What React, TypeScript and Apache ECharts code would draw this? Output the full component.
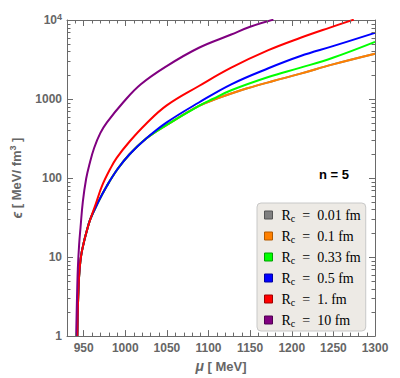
import React, { useEffect, useRef } from 'react';
import * as echarts from 'echarts';

// ---- data (mu [MeV], epsilon [MeV/fm^3]) ----
const radii = ['0.01', '0.1', '0.33', '0.5', '1.', '10'];
const colors = ['#808080', '#FF8000', '#00FF00', '#0000FF', '#FF0000', '#800080'];
const swatchBorders = ['#555555', '#b35a00', '#00a000', '#0000a0', '#a00000', '#500050'];

const grayR001: [number, number][] = [
  [942.4, 1], [943, 2.2], [944, 4.5], [945.1, 7], [947, 10.5], [950, 15], [953, 20], [957.9, 30],
  [967.6, 50], [978, 80], [991, 131], [1005.2, 200], [1024.5, 312], [1049.8, 470], [1088.5, 819],
  [1110, 1010], [1130, 1200], [1146.6, 1368], [1177.7, 1690], [1210.6, 2094], [1249.4, 2742], [1300, 3741],
];
const orangeR01: [number, number][] = [
  [942.4, 1], [943, 2.2], [944, 4.5], [945.1, 7], [947, 10.5], [950, 15], [953, 20], [957.9, 30],
  [967.6, 50], [978, 80], [991, 131], [1005.2, 200], [1024.5, 312], [1049.8, 470], [1088.5, 819],
  [1110, 1010], [1130, 1200], [1146.6, 1368], [1177.7, 1690], [1210.6, 2094], [1249.4, 2742], [1300, 3741],
];
const greenR033: [number, number][] = [
  [942.4, 1], [943, 2.2], [944, 4.5], [945.1, 7], [947, 10.5], [950, 15], [953, 20], [957.9, 30],
  [967.6, 50], [978, 80], [991, 131], [1005.2, 200], [1024.5, 312], [1049.8, 470], [1088.5, 819],
  [1105, 1000], [1127.3, 1290], [1171.9, 1898], [1210.6, 2494], [1249.4, 3334], [1300, 5297],
];
const blueR05: [number, number][] = [
  [942.4, 1], [943, 2.2], [944, 4.5], [945.1, 7], [947, 10.5], [950, 15], [953, 20], [957.9, 30],
  [967.6, 50], [978, 80], [991, 131], [1005.2, 200], [1024.5, 312], [1049.8, 506], [1088.5, 904],
  [1127.3, 1536], [1171.9, 2450], [1210.6, 3500], [1249.4, 4667], [1300, 6880],
];
const redR1: [number, number][] = [
  [942.4, 1], [943, 2.2], [944, 4.5], [945.1, 7], [947, 10.5], [950, 15], [953, 20], [957, 28],
  [964.5, 47], [972.2, 80], [982, 131], [989.7, 180], [1005.2, 290], [1024.5, 480], [1049.8, 830],
  [1088.5, 1462], [1127.3, 2494], [1171.9, 4150], [1210.6, 5953], [1245, 7960], [1274.5, 10100],
];
const purpleR10: [number, number][] = [
  [941, 1], [942, 3], [943, 7], [944.5, 14], [946.3, 24], [949, 50], [953, 98], [957, 150],
  [962.6, 240], [970, 370], [978, 506], [997.4, 904], [1018.7, 1536], [1049.8, 2612],
  [1088.5, 4456], [1127.3, 6546], [1150, 8200], [1178, 10100],
];
const seriesData = [grayR001, orangeR01, greenR033, blueR05, redR1, purpleR10];

const xTickLabels = ['950', '1000', '1050', '1100', '1150', '1200', '1250', '1300'];
const yTickLabels = ['1', '10', '100', '1000', '10^4'];

const X_MIN = 930;
const X_MAX = 1300;
const Y_MIN = 1;
const Y_MAX = 10000;

const AXIS = '#6a6a6a';
const LABEL = '#666666';
const SANS = '"Liberation Sans", Arial, sans-serif';
const SERIF = '"Liberation Serif", "DejaVu Serif", serif';
const NB = '\u00A0';

// minor tick positions
const xMinor: number[][] = [];
for (let v = 940; v < X_MAX; v += 10) if (v % 50 !== 0) xMinor.push([v, 1]);
const yMinor: number[][] = [];
for (let d = 1; d < Y_MAX; d *= 10) for (let k = 2; k <= 9; k++) yMinor.push([1000, d * k]);

export default function App() {
  const ref = useRef<HTMLDivElement>(null);
  useEffect(() => {
    document.body.style.margin = '0';
    const chart = echarts.init(ref.current!, undefined, { renderer: 'svg' });

    const minorLen = 3.5;
    const option: any = {
      animation: false,
      backgroundColor: '#ffffff',
      grid: { left: 57, right: 25, top: 20, bottom: 40, containLabel: false },
      xAxis: [
        {
          type: 'value', position: 'bottom', min: X_MIN, max: X_MAX, splitNumber: 8,
          splitLine: { show: false },
          axisLine: { lineStyle: { color: AXIS, width: 1 } },
          axisTick: { inside: true, length: 6, lineStyle: { color: AXIS } },
          axisLabel: {
            color: LABEL, fontFamily: SANS, fontWeight: 'bold', fontSize: 12, margin: 6,
            showMinLabel: true, showMaxLabel: true,
            formatter: (v: number) => (xTickLabels.includes(String(v)) ? String(v) : ''),
          },
          name: `{i|μ}${NB}[${NB}MeV]`,
          nameLocation: 'middle', nameGap: 22,
          nameTextStyle: {
            color: LABEL, fontFamily: SANS, fontWeight: 'bold', fontSize: 13,
            rich: { i: { fontStyle: 'italic', fontFamily: SANS, fontSize: 14, color: LABEL } },
          },
        },
        {
          type: 'value', position: 'top', min: X_MIN, max: X_MAX, splitNumber: 8,
          splitLine: { show: false },
          axisLine: { lineStyle: { color: AXIS, width: 1 } },
          axisTick: { inside: true, length: 6, lineStyle: { color: AXIS } },
          axisLabel: { show: false },
        },
      ],
      yAxis: [
        {
          type: 'log', logBase: 10, min: Y_MIN, max: Y_MAX, position: 'left',
          splitLine: { show: false },
          axisLine: { show: true, lineStyle: { color: AXIS, width: 1 } },
          axisTick: { show: true, inside: true, length: 6, lineStyle: { color: AXIS } },
          axisLabel: {
            color: LABEL, fontFamily: SANS, fontWeight: 'bold', fontSize: 12, margin: 5,
            formatter: (v: number) => {
              const i = Math.round(Math.log10(v));
              const t = yTickLabels[i] ?? '';
              return t === '10^4' ? '10{sup|4}' : t;
            },
            rich: {
              sup: { fontSize: 9, fontWeight: 'bold', fontFamily: SANS, color: LABEL, verticalAlign: 'top', padding: [0, 0, 6, 0] },
            },
          },
          name: `{i|ϵ}${NB}[${NB}MeV/${NB}fm{sup|3}${NB}]`,
          nameLocation: 'middle', nameGap: 42, nameRotate: 90,
          nameTextStyle: {
            color: LABEL, fontFamily: SANS, fontWeight: 'bold', fontSize: 13,
            rich: {
              i: { fontStyle: 'italic', fontFamily: SANS, fontSize: 14, color: LABEL },
              sup: { fontSize: 9, fontWeight: 'bold', fontFamily: SANS, color: LABEL, padding: [0, 0, 8, 0] },
            },
          },
        },
        {
          type: 'log', logBase: 10, min: Y_MIN, max: Y_MAX, position: 'right',
          splitLine: { show: false },
          axisLine: { show: true, lineStyle: { color: AXIS, width: 1 } },
          axisTick: { show: true, inside: true, length: 6, lineStyle: { color: AXIS } },
          axisLabel: { show: false },
        },
      ],
      legend: {
        orient: 'vertical', left: 257, top: 203,
        selectedMode: false,
        backgroundColor: '#EDEAE5', borderColor: '#C8C8C8', borderWidth: 1, borderRadius: 4,
        padding: [4, 5, 3, 7], itemGap: 5, itemWidth: 8, itemHeight: 8,
        data: radii.map((r, i) => ({
          name: r, icon: 'rect',
          itemStyle: { color: colors[i], borderColor: swatchBorders[i], borderWidth: 1 },
        })),
        formatter: (name: string) => `{r|R}{c|c}{r|${NB}${NB}=${NB}${NB}${name}${NB}fm}`,
        textStyle: {
          color: '#000', fontFamily: SERIF, fontSize: 14, lineHeight: 16, padding: [0, 0, 0, 4],
          rich: {
            r: { fontFamily: SERIF, fontSize: 14, color: '#000', lineHeight: 16, verticalAlign: 'middle' },
            c: { fontFamily: SERIF, fontSize: 10, color: '#000', lineHeight: 16, verticalAlign: 'bottom' },
          },
        },
      },
      graphic: [
        {
          type: 'text', left: 319, top: 168,
          style: { text: 'n = 5', font: `bold 13px ${SANS}`, fill: '#000' },
        },
      ],
      series: [
        ...seriesData.map((d, i) => ({
          name: radii[i], type: 'line', data: d, showSymbol: false, symbol: 'none',
          smooth: 0.4, clip: true,
          lineStyle: { color: colors[i], width: 2 }, itemStyle: { color: colors[i] },
          xAxisIndex: 0, yAxisIndex: 0, z: 2 + i,
        })),
        {
          type: 'custom', name: 'xminor', data: xMinor, xAxisIndex: 0, yAxisIndex: 0, silent: true, z: 20,
          renderItem: (params: any, api: any) => {
            const p = api.coord([api.value(0), 1]);
            const cs = params.coordSys;
            const x = Math.round(p[0]) + 0.5;
            const yb = cs.y + cs.height;
            return {
              type: 'group',
              children: [
                { type: 'line', shape: { x1: x, y1: yb, x2: x, y2: yb - minorLen }, style: { stroke: AXIS, lineWidth: 1 } },
                { type: 'line', shape: { x1: x, y1: cs.y, x2: x, y2: cs.y + minorLen }, style: { stroke: AXIS, lineWidth: 1 } },
              ],
            };
          },
        },
        {
          type: 'custom', name: 'yminor', data: yMinor, xAxisIndex: 0, yAxisIndex: 0, silent: true, z: 20,
          renderItem: (params: any, api: any) => {
            const p = api.coord([api.value(0), api.value(1)]);
            const cs = params.coordSys;
            const y = Math.round(p[1]) + 0.5;
            const xr = cs.x + cs.width;
            return {
              type: 'group',
              children: [
                { type: 'line', shape: { x1: cs.x, y1: y, x2: cs.x + minorLen, y2: y }, style: { stroke: AXIS, lineWidth: 1 } },
                { type: 'line', shape: { x1: xr, y1: y, x2: xr - minorLen, y2: y }, style: { stroke: AXIS, lineWidth: 1 } },
              ],
            };
          },
        },
      ],
    };
    chart.setOption(option);
    return () => chart.dispose();
  }, []);
  return <div ref={ref} style={{ width: 400, height: 378 }} />;
}
